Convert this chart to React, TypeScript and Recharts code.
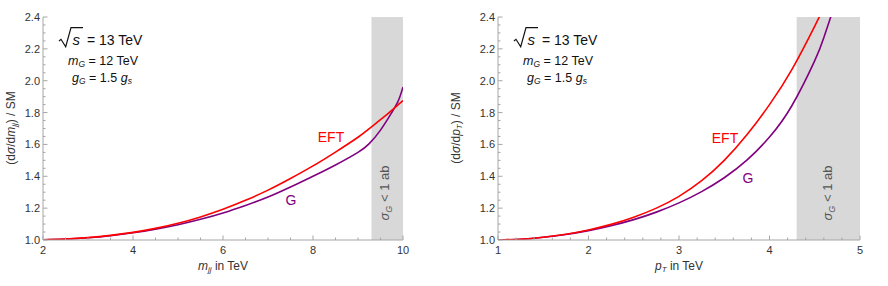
import { LineChart, Line, XAxis, YAxis, ReferenceArea } from 'recharts'

// left panel: invariant mass m_jj (TeV)
const mjj = [2, 2.5, 3, 3.5, 4, 4.5, 5, 5.5, 6, 6.5, 7, 7.5, 8, 8.5, 9, 9.25, 9.5, 9.75, 9.9, 10]
const eftM = [1.002, 1.006, 1.015, 1.029, 1.048, 1.073, 1.105, 1.145, 1.193, 1.249, 1.313, 1.386, 1.465, 1.552, 1.645, 1.699, 1.755, 1.814, 1.851, 1.875]
const gM = [1.002, 1.006, 1.014, 1.027, 1.045, 1.068, 1.096, 1.13, 1.17, 1.217, 1.27, 1.333, 1.4, 1.471, 1.55, 1.605, 1.69, 1.8, 1.877, 1.96]

// right panel: transverse momentum p_T (TeV)
const pT = [1, 1.25, 1.5, 1.75, 2, 2.25, 2.5, 2.75, 3, 3.25, 3.5, 3.75, 4, 4.25, 4.5, 4.6, 4.7]
const eftP = [1.0, 1.005, 1.017, 1.036, 1.063, 1.098, 1.143, 1.2, 1.274, 1.372, 1.5, 1.66, 1.85, 2.073, 2.343, 2.46, 2.58]
const gP = [1.0, 1.005, 1.017, 1.035, 1.059, 1.09, 1.128, 1.175, 1.233, 1.304, 1.391, 1.501, 1.646, 1.846, 2.126, 2.27, 2.44]

// excluded region (sigma_G < 1 ab)
const shadeM = [9.3, 10]
const shadeP = [4.3, 5]

const RED = '#ff0000'
const PURPLE = '#800080'
const FRAME = '#a6a6a6'
const TXT = '#333333'
const FONT = '"Liberation Sans", Arial, sans-serif'

const range = (a: number, b: number, s: number) => {
  const out: number[] = []
  for (let v = a; v <= b + 1e-9; v += s) out.push(Math.round(v * 1000) / 1000)
  return out
}
const isMajor = (v: number, step: number) => Math.abs(v / step - Math.round(v / step)) < 1e-6

function makeTick(side: string, major: number, fmt?: (v: number) => string) {
  return (props: any) => {
    const { x, y, payload } = props
    const v = payload.value
    const big = isMajor(v, major)
    const len = big ? 4.5 : 2.5
    let line
    if (side === 'bottom') line = <line x1={x} y1={y} x2={x} y2={y - len} stroke={FRAME} />
    else if (side === 'top') line = <line x1={x} y1={y} x2={x} y2={y + len} stroke={FRAME} />
    else if (side === 'left') line = <line x1={x} y1={y} x2={x + len} y2={y} stroke={FRAME} />
    else line = <line x1={x} y1={y} x2={x - len} y2={y} stroke={FRAME} />
    let label = null
    if (big && fmt) {
      if (side === 'bottom')
        label = <text x={x} y={y + 14} textAnchor="middle" fontSize={11} fill={TXT} fontFamily={FONT}>{fmt(v)}</text>
      else if (side === 'left')
        label = <text x={x - 3} y={y + 4} textAnchor="end" fontSize={11} fill={TXT} fontFamily={FONT}>{fmt(v)}</text>
    }
    return <g>{line}{label}</g>
  }
}

const yTicks = range(1, 2.4, 0.05)
const xTicksM = range(2, 10, 0.5)
const xTicksP = range(1, 5, 0.2)

function Panel({ data, xDomain, xTicks, xMajor, shade, width, left, right }: any) {
  const common = { tickLine: false, tickSize: 0, tickMargin: 0, interval: 0 as const, axisLine: { stroke: FRAME } }
  return (
    <LineChart width={width} height={286} data={data} margin={{ top: 17, right: right, bottom: 16, left: left }}>
      <XAxis xAxisId="b" dataKey="x" type="number" domain={xDomain} ticks={xTicks} height={30} allowDataOverflow
        tick={makeTick('bottom', xMajor, (v: number) => String(v))} {...common} />
      <XAxis xAxisId="t" orientation="top" dataKey="x" type="number" domain={xDomain} ticks={xTicks} height={0} allowDataOverflow
        tick={makeTick('top', xMajor)} {...common} />
      <YAxis yAxisId="l" type="number" domain={[1, 2.4]} ticks={yTicks} width={30} allowDataOverflow
        tick={makeTick('left', 0.2, (v: number) => v.toFixed(1))} {...common} />
      <YAxis yAxisId="r" orientation="right" type="number" domain={[1, 2.4]} ticks={yTicks} width={0} allowDataOverflow
        tick={makeTick('right', 0.2)} {...common} />
      <ReferenceArea xAxisId="b" yAxisId="l" x1={shade[0]} x2={shade[1]} y1={1} y2={2.4} fill="#d8d8d8" fillOpacity={1} stroke="none" />
      <Line xAxisId="b" yAxisId="l" dataKey="g" type="natural" stroke={PURPLE} strokeWidth={1.6} dot={false} isAnimationActive={false} />
      <Line xAxisId="b" yAxisId="l" dataKey="eft" type="natural" stroke={RED} strokeWidth={1.6} dot={false} isAnimationActive={false} />
    </LineChart>
  )
}

function Info({ dx }: { dx: number }) {
  return (
    <g transform={`translate(${dx},0)`} fill="#111" fontFamily={FONT}>
      <path d="M59,41 L61,39.3 L65.7,46.7 L71,27.7 L83,27.7" fill="none" stroke="#111" strokeWidth={1.2} />
      <text x={72.5} y={45} fontSize={15} fontStyle="italic">s</text>
      <text x={87} y={45} fontSize={14}>= 13 TeV</text>
      <text x={68} y={65} fontSize={12.5}>
        <tspan fontStyle="italic">m</tspan>
        <tspan fontStyle="italic" fontSize={8.5} dy={2}>G</tspan>
        <tspan dy={-2}> = 12 TeV</tspan>
      </text>
      <text x={72} y={82} fontSize={12.5}>
        <tspan fontStyle="italic">g</tspan>
        <tspan fontStyle="italic" fontSize={8.5} dy={2}>G</tspan>
        <tspan dy={-2}> = 1.5 </tspan>
        <tspan fontStyle="italic">g</tspan>
        <tspan fontStyle="italic" fontSize={8.5} dy={2}>s</tspan>
      </text>
    </g>
  )
}

export default function App() {
  const leftData = mjj.map((x, i) => ({ x, eft: eftM[i], g: gM[i] }))
  const rightData = pT.map((x, i) => ({ x, eft: eftP[i], g: gP[i] }))
  return (
    <div style={{ position: 'absolute', left: 0, top: 0, width: 888, height: 286, background: '#fff' }}>
      <div style={{ position: 'absolute', left: 0, top: 0 }}>
        <Panel data={leftData} xDomain={[2, 10]} xTicks={xTicksM} xMajor={2} shade={shadeM} width={430} left={13} right={27} />
      </div>
      <div style={{ position: 'absolute', left: 440, top: 0 }}>
        <Panel data={rightData} xDomain={[1, 5]} xTicks={xTicksP} xMajor={1} shade={shadeP} width={448} left={28} right={28} />
      </div>
      <svg width={888} height={286} style={{ position: 'absolute', left: 0, top: 0, pointerEvents: 'none' }}>
        <Info dx={0} />
        <Info dx={455} />
        {/* y labels */}
        <text transform="translate(15,128) rotate(-90)" textAnchor="middle" fontSize={12} fill={TXT} fontFamily={FONT}>
          (d<tspan fontStyle="italic">σ</tspan>/d<tspan fontStyle="italic">m</tspan>
          <tspan fontStyle="italic" fontSize={8} dy={2}>jj</tspan><tspan dy={-2}>) / SM</tspan>
        </text>
        <text transform="translate(460,128) rotate(-90)" textAnchor="middle" fontSize={12} fill={TXT} fontFamily={FONT}>
          (d<tspan fontStyle="italic">σ</tspan>/d<tspan fontStyle="italic">p</tspan>
          <tspan fontStyle="italic" fontSize={8} dy={2}>T</tspan><tspan dy={-2}>) / SM</tspan>
        </text>
        {/* x labels */}
        <text x={223} y={270} textAnchor="middle" fontSize={12} fill={TXT} fontFamily={FONT}>
          <tspan fontStyle="italic">m</tspan><tspan fontStyle="italic" fontSize={8} dy={2}>jj</tspan><tspan dy={-2}> in TeV</tspan>
        </text>
        <text x={679} y={270} textAnchor="middle" fontSize={12} fill={TXT} fontFamily={FONT}>
          <tspan fontStyle="italic">p</tspan><tspan fontStyle="italic" fontSize={8} dy={2}>T</tspan><tspan dy={-2}> in TeV</tspan>
        </text>
        {/* curve labels */}
        <text x={331} y={142} textAnchor="middle" fontSize={14} fill={RED} fontFamily={FONT}>EFT</text>
        <text x={291} y={205} textAnchor="middle" fontSize={14} fill={PURPLE} fontFamily={FONT}>G</text>
        <text x={725} y={143} textAnchor="middle" fontSize={14} fill={RED} fontFamily={FONT}>EFT</text>
        <text x={748} y={183} textAnchor="middle" fontSize={14} fill={PURPLE} fontFamily={FONT}>G</text>
        {/* shaded region labels */}
        {[[389, 193], [832, 193]].map(([cx, cy], i) => (
          <text key={i} transform={`translate(${cx},${cy}) rotate(-90)`} textAnchor="middle" fontSize={13} fill="#555" fontFamily={FONT}>
            <tspan fontStyle="italic">σ</tspan><tspan fontStyle="italic" fontSize={9} dy={3}>G</tspan><tspan dy={-3}> &lt; 1 ab</tspan>
          </text>
        ))}
      </svg>
    </div>
  )
}
